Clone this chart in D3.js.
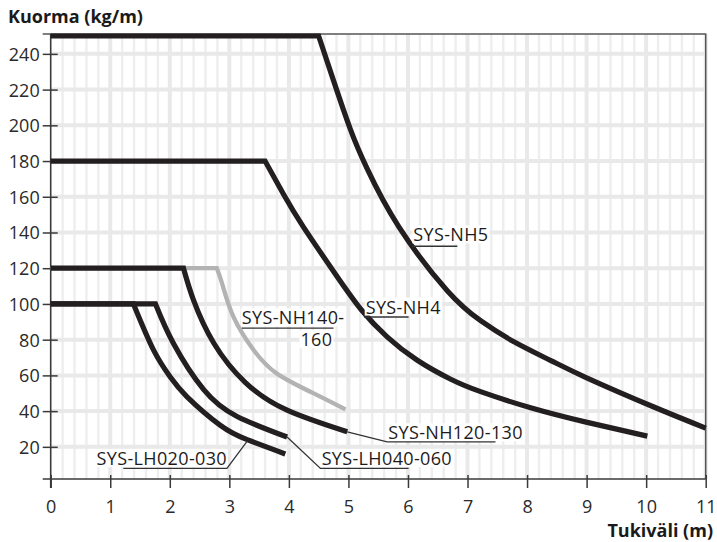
<!DOCTYPE html>
<html><head><meta charset="utf-8">
<script src="https://cdn.jsdelivr.net/npm/d3@7"></script>
<style>
body{margin:0;background:#fff}
text{font-family:"Open Sans","Noto Sans",sans-serif}
</style>
</head><body>
<svg id="chart" width="717" height="542"></svg>
<script>
// ---- data ----
const xTickValues = [0,1,2,3,4,5,6,7,8,9,10,11];
const yTickValues = [20,40,60,80,100,120,140,160,180,200,220,240];
const xTitle = "Tukiväli (m)";
const yTitle = "Kuorma (kg/m)";

const nh140X = [0, 2.79, 2.88, 3.07, 3.41, 3.80, 4.40, 4.95];
const nh140Y = [120, 120, 111.3, 92.7, 74.1, 61, 50.2, 41];

const nh5X = [0, 4.50, 4.75, 5.03, 5.31, 5.85, 6.66, 7.22, 7.78, 8.40, 9.01, 10.13, 11.0];
const nh5Y = [250, 250, 225, 198, 176, 143, 107.4, 90.6, 78.8, 68.3, 58.5, 42.3, 30.5];

const nh4X = [0, 3.60, 3.91, 4.24, 4.78, 5.22, 5.65, 6.15, 6.71, 7.22, 8.06, 9.01, 10.02];
const nh4Y = [180, 180, 161.4, 143.3, 116.8, 96.6, 81.6, 68.6, 58.0, 50.9, 41.9, 33.7, 26.0];

const nh120X = [0, 2.23, 2.40, 2.74, 3.27, 3.97, 4.98];
const nh120Y = [120, 120, 102, 78, 56, 40.5, 28.4];

const lh040X = [0, 1.76, 2.06, 2.57, 3.13, 3.97];
const lh040Y = [100, 100, 78, 52, 37, 25.5];

const lh020X = [0, 1.39, 1.73, 2.01, 2.29, 2.85, 3.30, 3.94];
const lh020Y = [100, 100, 74, 59, 48, 32, 24, 16];

// ---- layout ----
const svg = d3.select("#chart");
const x = d3.scaleLinear().domain([0, 11]).range([50.7, 705.7]);
const y = d3.scaleLinear().domain([2, 250]).range([479, 36]);
const yTop = y(251.1);

// grid
const grid = svg.append("g");
const minorX = d3.range(0, 11.001, 0.2).filter(v => Math.abs(v - Math.round(v)) > 1e-6);
grid.selectAll("line.minor").data(minorX).join("line")
  .attr("x1", d => x(d)).attr("x2", d => x(d))
  .attr("y1", yTop).attr("y2", y(2))
  .attr("stroke", "#eeeeee").attr("stroke-width", 2.4);
grid.selectAll("line.majorx").data(xTickValues.slice(1)).join("line")
  .attr("x1", d => x(d)).attr("x2", d => x(d))
  .attr("y1", yTop).attr("y2", y(2))
  .attr("stroke", "#e9e9e9").attr("stroke-width", 4);
grid.selectAll("line.majory").data(yTickValues).join("line")
  .attr("x1", x(0)).attr("x2", x(11))
  .attr("y1", d => y(d)).attr("y2", d => y(d))
  .attr("stroke", "#e9e9e9").attr("stroke-width", 4);

// frame (top / right)
svg.append("path")
  .attr("d", `M${x(0) - 8},${yTop}H${x(11)}V${y(2)}`)
  .attr("fill", "none").attr("stroke", "#555").attr("stroke-width", 1.5);

// axes
const axisColor = "#3a3a3a";
const yAxis = svg.append("g").attr("transform", `translate(${x(0)},0)`)
  .call(d3.axisLeft(y).tickValues(yTickValues).tickSize(8).tickFormat(d3.format("d")));
yAxis.select(".domain").remove();
yAxis.selectAll(".tick line").attr("x1", 7).attr("x2", -8).attr("stroke", axisColor).attr("stroke-width", 1.5);
yAxis.selectAll(".tick text").attr("x", -11).attr("dy", "0.36em")
  .attr("font-size", 18).attr("fill", "#2a2a2a").attr("font-family", '"Open Sans",sans-serif');

const xAxis = svg.append("g").attr("transform", `translate(0,${y(2)})`)
  .call(d3.axisBottom(x).tickValues(xTickValues).tickSize(9).tickFormat(d3.format("d")));
xAxis.select(".domain").remove();
xAxis.selectAll(".tick line").attr("y1", -4).attr("y2", 9).attr("stroke", axisColor).attr("stroke-width", 1.5);
xAxis.selectAll(".tick text").attr("y", 33.5).attr("dy", 0)
  .attr("font-size", 18).attr("fill", "#2a2a2a").attr("font-family", '"Open Sans",sans-serif');

// axis lines
svg.append("line").attr("x1", x(0) - 8).attr("x2", x(11)).attr("y1", y(2)).attr("y2", y(2))
  .attr("stroke", axisColor).attr("stroke-width", 1.6);
svg.append("line").attr("x1", x(0)).attr("x2", x(0)).attr("y1", yTop).attr("y2", y(2) + 9)
  .attr("stroke", axisColor).attr("stroke-width", 1.6);

// titles
svg.append("text").attr("x", 8).attr("y", 23).text(yTitle)
  .attr("font-size", 18).attr("font-weight", 700).attr("fill", "#1a1a1a");
svg.append("text").attr("x", 713).attr("y", 537).attr("text-anchor", "end").text(xTitle)
  .attr("font-size", 18).attr("font-weight", 700).attr("fill", "#1a1a1a");

// curves: straight plateau, then a smooth decreasing curve
function seriesPath(xs, ys) {
  const pts = xs.map((v, i) => [v, ys[i]]);
  const lin = d3.line().x(d => x(d[0])).y(d => y(d[1]));
  const crv = d3.line().curve(d3.curveNatural).x(d => x(d[0])).y(d => y(d[1]));
  return lin(pts.slice(0, 2)) + crv(pts.slice(1)).replace(/^M/, "L");
}
const curves = svg.append("g").attr("fill", "none").attr("stroke-linejoin", "miter");
curves.append("path").attr("d", seriesPath(nh140X, nh140Y))
  .attr("stroke", "#b3b3b3").attr("stroke-width", 4.3);
[[nh5X, nh5Y], [nh4X, nh4Y], [nh120X, nh120Y], [lh040X, lh040Y], [lh020X, lh020Y]].forEach(([xs, ys]) => {
  curves.append("path").attr("d", seriesPath(xs, ys))
    .attr("stroke", "#231f20").attr("stroke-width", 5.2);
});

// leader lines and underlines
const leaderColor = "#333";
const leaders = [
  [[4.98, 28.4], [5.65, 22.8], [7.47, 22.8]],
  [[3.97, 25.5], [4.53, 7.9], [6.01, 7.9]],
  [[3.30, 23.2], [2.96, 7.9], [1.22, 7.9]],
  [[6.07, 132.3], [6.83, 132.3]],
  [[5.26, 92.7], [6.01, 92.7]],
  [[3.21, 86.5], [4.75, 86.5]]
];

// labels (each entry: lines of one label)
const labels = [
  [{t: "SYS-NH5", x: 6.09, y: 135, a: "start"}],
  [{t: "SYS-NH4", x: 5.29, y: 94.6, a: "start"}],
  [{t: "SYS-NH140-", x: 3.21, y: 88.6, a: "start"}, {t: "160", x: 4.73, y: 76.3, a: "end"}],
  [{t: "SYS-NH120-130", x: 5.67, y: 24.2, a: "start"}],
  [{t: "SYS-LH040-060", x: 4.55, y: 9.8, a: "start"}],
  [{t: "SYS-LH020-030", x: 2.96, y: 9.8, a: "end"}]
];
const lg = svg.append("g");
labels.forEach(lines => {
  const g = lg.append("g");
  const bgs = g.append("g");
  const t = g.append("text").attr("font-size", 18).attr("font-weight", 500)
    .attr("letter-spacing", 0.35).attr("fill", "#1e1b1c");
  const spans = lines.map(l => t.append("tspan").attr("x", x(l.x)).attr("y", y(l.y))
    .attr("text-anchor", l.a).text(l.t));
  spans.forEach(s => {
    const b = s.node().getBBox();
    bgs.append("rect").attr("fill", "#fff")
      .attr("x", b.x - 1).attr("y", b.y + 3).attr("width", b.width + 2).attr("height", b.height - 6);
  });
});
const lineGen = d3.line().x(d => x(d[0])).y(d => y(d[1]));
svg.append("g").selectAll("path").data(leaders).join("path")
  .attr("d", lineGen).attr("fill", "none").attr("stroke", leaderColor).attr("stroke-width", 1.3);
</script>
</body></html>
